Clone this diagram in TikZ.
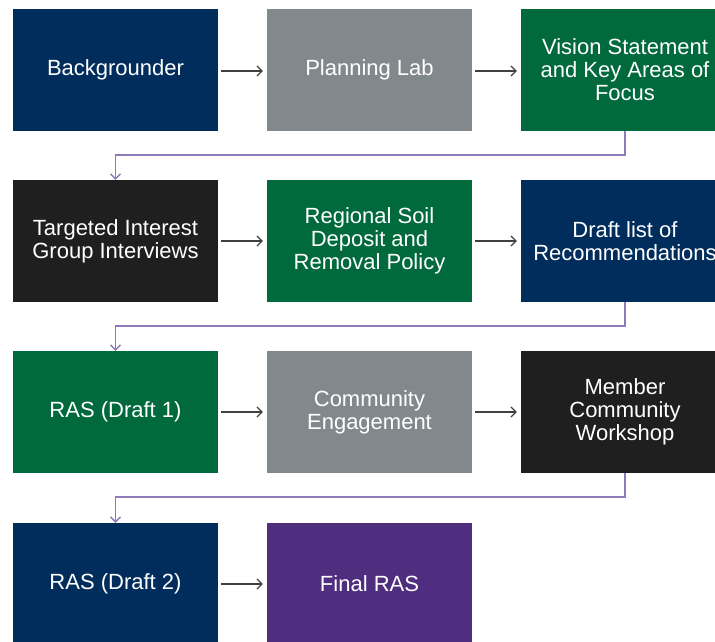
\documentclass[tikz,border=0pt]{standalone}
\usepackage{fontspec}
\setmainfont{Liberation Sans}
\usetikzlibrary{arrows.meta}
\definecolor{navy}{RGB}{0,45,92}
\definecolor{slate}{RGB}{130,137,141}
\definecolor{forest}{RGB}{0,106,60}
\definecolor{coal}{RGB}{31,31,31}
\definecolor{plum}{RGB}{79,45,127}
\definecolor{lav}{RGB}{142,121,186}
\definecolor{arrowgrey}{RGB}{64,64,64}
\tikzset{
  box/.style={draw=none, minimum width=205pt, minimum height=122pt, inner sep=0pt,
    text=white, align=center, font=\fontsize{22}{23}\selectfont},
  flow/.style={draw=arrowgrey, line width=1.2pt, -{Straight Barb[length=5pt,width=10pt,line width=1.2pt]}},
  wrap/.style={draw=lav, line width=1.6pt, -{Straight Barb[length=5pt,width=10pt,line width=1.4pt]}},
}
\begin{document}
\begin{tikzpicture}[x=1pt,y=-1pt]
\useasboundingbox (0,0) rectangle (715,641);
\clip (0,0) rectangle (715,641);
% row 1
\node[box, fill=navy] (b1) at (115.5,70) {Backgrounder};
\node[box, fill=slate] (b2) at (369.5,70) {Planning Lab};
\node[box, fill=forest, minimum width=208pt] (b3) at (625,70) {Vision Statement\\and Key Areas of\\Focus};
% row 2
\node[box, fill=coal] (b4) at (115.5,241) {Targeted Interest\\Group Interviews};
\node[box, fill=forest] (b5) at (369.5,241) {Regional Soil\\Deposit and\\Removal Policy};
\node[box, fill=navy, minimum width=208pt] (b6) at (625,241) {Draft list of\\Recommendations};
% row 3
\node[box, fill=forest] (b7) at (115.5,412) {RAS (Draft 1)};
\node[box, fill=slate] (b8) at (369.5,412) {Community\\Engagement};
\node[box, fill=coal, minimum width=208pt] (b9) at (625,412) {Member\\Community\\Workshop};
% row 4
\node[box, fill=navy] (b10) at (115.5,584) {RAS (Draft 2)};
\node[box, fill=plum] (b11) at (369.5,584) {Final RAS};
% horizontal arrows
\draw[flow] ([xshift=3pt,yshift=-1pt]b1.east) -- ([xshift=-4pt,yshift=-1pt]b2.west);
\draw[flow] ([xshift=3pt,yshift=-1pt]b2.east) -- ([xshift=-4pt,yshift=-1pt]b3.west);
\draw[flow] ([xshift=3pt]b4.east) -- ([xshift=-4pt]b5.west);
\draw[flow] ([xshift=3pt]b5.east) -- ([xshift=-4pt]b6.west);
\draw[flow] ([xshift=3pt]b7.east) -- ([xshift=-4pt]b8.west);
\draw[flow] ([xshift=3pt]b8.east) -- ([xshift=-4pt]b9.west);
\draw[flow] ([xshift=3pt]b10.east) -- ([xshift=-4pt]b11.west);
% wrap connectors
\draw[wrap] (b3.south) -- ++(0,24) -| (b4.north);
\draw[wrap] (b6.south) -- ++(0,24) -| (b7.north);
\draw[wrap] (b9.south) -- ++(0,24) -| (b10.north);
\end{tikzpicture}
\end{document}
